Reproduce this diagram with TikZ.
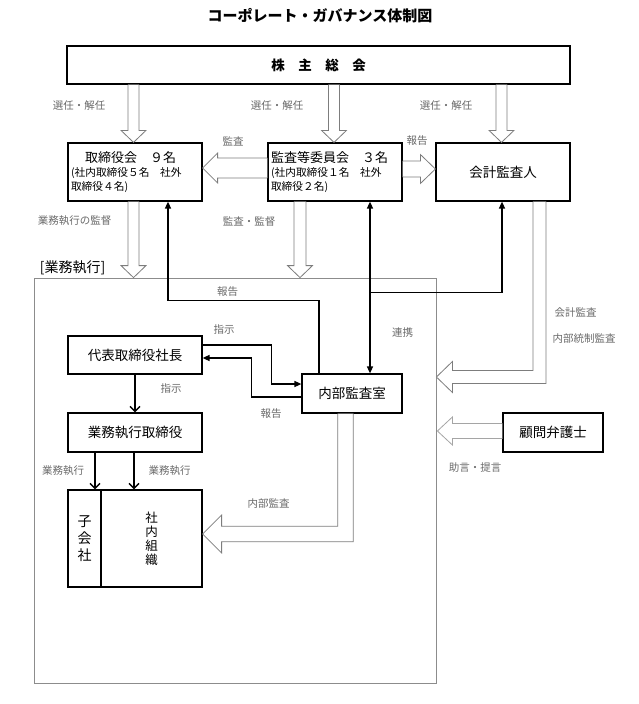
\documentclass[tikz,border=0pt]{standalone}
\usepackage{fontspec}
\setmainfont{Noto Sans CJK JP}
\usetikzlibrary{arrows.meta,calc}
\definecolor{lblgray}{RGB}{105,105,105}
\definecolor{hgray}{RGB}{125,125,125}
\definecolor{lgray}{RGB}{165,165,165}
\definecolor{fgray}{RGB}{140,140,140}
% vertical hollow arrow: #1 start, #2 tip, #3 shaft half, #4 head half
\newcommand\hollowV[4]{%
 \draw[hollow] let \p1=(#1),\p2=(#2) in ({\x2-#3},\y1) -- ({\x2-#3},{\y2+12pt}) -- ({\x2-#4},{\y2+12pt}) -- (\x2,\y2) -- ({\x2+#4},{\y2+12pt}) -- ({\x2+#3},{\y2+12pt}) -- ({\x2+#3},\y1);}
% horizontal hollow arrow: #1 style, #2 start, #3 tip, #4 shaft half, #5 head half, #6 signed head length
\newcommand\hollowH[6]{%
 \draw[#1] let \p1=(#2),\p2=(#3) in (\x1,{\y2+#4}) -- ({\x2-(#6)},{\y2+#4}) -- ({\x2-(#6)},{\y2+#5}) -- (\x2,\y2) -- ({\x2-(#6)},{\y2-#5}) -- ({\x2-(#6)},{\y2-#4}) -- (\x1,{\y2-#4});}
% bent hollow arrow (down, then left): #1 start, #2 tip, #3 shaft half, #4 head half, #5 head length
\newcommand\hollowbent[5]{%
 \draw[hollow] let \p1=(#1),\p2=(#2) in ({\x1-#3},\y1) -- ({\x1-#3},{\y2+#3}) -- ({\x2+#5},{\y2+#3}) -- ({\x2+#5},{\y2+#4}) -- (\x2,\y2) -- ({\x2+#5},{\y2-#4}) -- ({\x2+#5},{\y2-#3}) -- ({\x1+#3},{\y2-#3}) -- ({\x1+#3},\y1);}
\begin{document}
\begin{tikzpicture}[x=1pt,y=-1pt,
 box/.style={draw=black, line width=1.2pt, fill=white, inner sep=0pt, font=\fontsize{13.5}{16}\selectfont},
 lbl/.style={text=lblgray, font=\fontsize{10.5}{12}\selectfont, inner sep=0pt},
 hollow/.style={draw=hgray, line width=0.8pt, fill=white, line join=miter},
 hollowl/.style={draw=lgray, line width=0.8pt, fill=white, line join=miter},
 conn/.style={line width=1.4pt, draw=black},
 tri/.style={-{Triangle[length=7pt,width=6pt]}},
 tritwo/.style={{Triangle[length=7pt,width=6pt]}-{Triangle[length=7pt,width=6pt]}},
 barb/.style={-{Straight Barb[length=5pt,width=10pt]}},
]
\useasboundingbox (0,0) rectangle (638,704);

% title
\node[font=\fontsize{15}{18}\selectfont\bfseries, inner sep=0pt] (title) at (320,16) {コーポレート・ガバナンス体制図};

% frame of business execution
\node[draw=fgray, line width=0.8pt, minimum width=402pt, minimum height=405pt, inner sep=0pt] (frame) at (235,480.5) {};
\node[font=\fontsize{14}{16}\selectfont, inner sep=0pt] (frlabel) at (72.5,268) {[業務執行]};

% boxes
\node[box, minimum width=503pt, minimum height=38pt, font=\fontsize{13.5}{16}\selectfont\bfseries] (soukai) at (318.5,65) {株　主　総　会};
\node[box, minimum height=58pt, text width=128pt, inner xsep=3pt, align=left, font=\fontsize{10.7}{13.8}\selectfont] (tori) at (135,172)
 {{\fontsize{13}{15}\selectfont\hspace*{14pt}取締役会　９名}\\(社内取締役５名　社外\\取締役４名)};
\node[box, minimum height=58pt, text width=128pt, inner xsep=3pt, align=left, font=\fontsize{10.7}{13.8}\selectfont] (kansa) at (335,172)
 {{\fontsize{13}{15}\selectfont 監査等委員会　３名}\\(社内取締役１名　社外\\取締役２名)};
\node[box, minimum width=134pt, minimum height=58pt] (kaikei) at (503,172) {会計監査人};
\node[box, minimum width=134pt, minimum height=38pt] (daihyo) at (135,355) {代表取締役社長};
\node[box, minimum width=134pt, minimum height=39pt] (gyomu) at (135,432.5) {業務執行取締役};
\node[box, minimum width=100pt, minimum height=39pt] (naibu) at (352,393.5) {内部監査室};
\node[box, minimum width=100pt, minimum height=39pt] (komon) at (553,432.5) {顧問弁護士};
\node[box, minimum width=33pt, minimum height=97pt, align=center, font=\fontsize{14}{16.7}\selectfont] (kogaisha) at (84.5,538.5) {子\\会\\社};
\node[box, minimum width=101pt, minimum height=97pt, align=center, font=\fontsize{12.5}{14}\selectfont] (shanai) at (151.5,538.5) {社\\内\\組\\織};

% hollow arrows from general meeting
\coordinate (a1) at ($(tori.north)+(-1.5,0)$);
\coordinate (a2) at ($(kansa.north)+(-1,0)$);
\coordinate (a3) at ($(kaikei.north)+(-1.5,0)$);
\hollowV{soukai.south -| a1}{a1}{5.5pt}{12.5pt}
\hollowV{soukai.south -| a2}{a2}{5.5pt}{12.5pt}
\hollowV{soukai.south -| a3}{a3}{5.5pt}{12.5pt}

% hollow arrows down into the frame
\coordinate (b1) at ($(tori.south)+(-1.5,0)$);
\coordinate (b2) at ($(kansa.south)+(-35,0)$);
\hollowV{b1}{frame.north -| b1}{5.5pt}{12.5pt}
\hollowV{b2}{frame.north -| b2}{6pt}{12.5pt}

% horizontal hollow arrows
\coordinate (h1s) at ($(kansa.west)+(0,-4)$);
\coordinate (h1t) at ($(tori.east)+(0,-4)$);
\coordinate (h2s) at ($(kansa.east)+(0,-3)$);
\coordinate (h2t) at ($(kaikei.west)+(0,-3)$);
\coordinate (h3s) at ($(komon.west)+(0,-1.5)$);
\coordinate (h3t) at ($(frame.east |- komon.west)+(1,-1.5)$);
\hollowH{hollow}{h1s}{h1t}{10pt}{15pt}{-15pt}
\hollowH{hollow}{h2s}{h2t}{8pt}{14.5pt}{15pt}
\hollowH{hollowl}{h3s}{h3t}{7.5pt}{14pt}{-15pt}

% bent hollow arrows
\coordinate (c1) at ($(kaikei.south)+(36.5,0)$);
\coordinate (c1t) at ($(frame.east |- naibu.west)+(0,-16.5)$);
\hollowbent{c1}{c1t}{6.5pt}{15.5pt}{16pt}
\coordinate (c2) at ($(naibu.south)+(-6.5,0)$);
\coordinate (c2t) at ($(shanai.east)+(0,-4.5)$);
\hollowbent{c2}{c2t}{7.75pt}{19pt}{19pt}

% black connectors
\coordinate (t1) at ($(tori.south)+(33,0)$);
\coordinate (n1) at ($(naibu.north)+(-33,0)$);
\draw[conn, tri] (n1) -- ++(0,-73) -| (t1);
\coordinate (rk) at ($(kansa.south)+(35,0)$);
\draw[conn, tritwo] (rk) -- (rk |- naibu.north);
\coordinate (j1) at ($(rk)+(0,91)$);
\coordinate (k1) at ($(kaikei.south)+(-1,0)$);
\draw[conn, tri] (j1) -| (k1);
\draw[conn, tri] ($(daihyo.east)+(0,-10)$) -- ++(69,0) |- ($(naibu.west)+(0,-9.5)$);
\draw[conn, tri] ($(naibu.west)+(0,3.5)$) -- ++(-50,0) |- ($(daihyo.east)+(0,3)$);
\draw[conn, barb] (daihyo.south) -- (gyomu.north);
\coordinate (g1) at ($(gyomu.south)+(-40,0)$);
\coordinate (g2) at ($(gyomu.south)+(-1,0)$);
\draw[conn, barb] (g1) -- (g1 |- kogaisha.north);
\draw[conn, barb] (g2) -- (g2 |- shanai.north);

% labels
\node[lbl] (l1) at (79,106) {選任・解任};
\node[lbl] (l2) at (277,106) {選任・解任};
\node[lbl] (l3) at (446,106) {選任・解任};
\node[lbl] (l4) at (233,141) {監査};
\node[lbl] (l5) at (417,141) {報告};
\node[lbl] (l6) at (74.5,221) {業務執行の監督};
\node[lbl] (l7) at (249,222) {監査・監督};
\node[lbl] (l8) at (227.5,292) {報告};
\node[lbl] (l9) at (224,330) {指示};
\node[lbl] (l10) at (171,389) {指示};
\node[lbl] (l11) at (271,414) {報告};
\node[lbl] (l12) at (402.5,333) {連携};
\node[lbl] (l13) at (575.5,313) {会計監査};
\node[lbl] (l14) at (584,339) {内部統制監査};
\node[lbl] (l15) at (475,468) {助言・提言};
\node[lbl] (l16) at (63,471) {業務執行};
\node[lbl] (l17) at (169.5,471) {業務執行};
\node[lbl] (l18) at (268.5,504) {内部監査};
\end{tikzpicture}
\end{document}
